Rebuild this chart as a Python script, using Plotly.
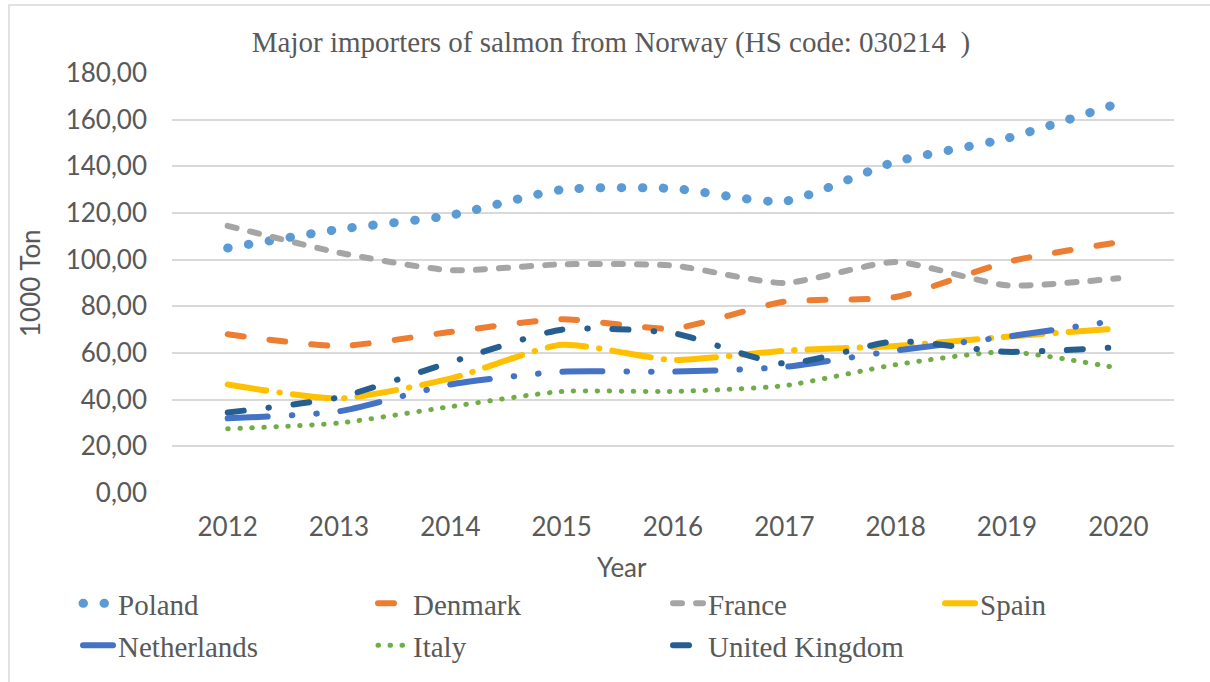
import plotly.graph_objects as go

# Data (1000 ton)
years = ["2012", "2013", "2014", "2015", "2016", "2017", "2018", "2019", "2020"]
poland = [105, 113, 119, 130, 130.5, 125, 142, 152, 167]
denmark = [68, 63, 69, 74.5, 70.5, 82, 84, 99, 107.5]
france = [114.5, 103, 95.5, 98, 97.5, 90, 99, 89, 92]
spain = [46.5, 40.5, 49, 63.5, 57, 61, 63, 67, 70.5]
netherlands = [32, 35, 46.5, 52, 52, 54, 61, 67, 74]
italy = [27.5, 30, 37, 43.5, 43.5, 46, 55, 60.5, 53.5]
uk = [34.5, 41, 56, 70, 68.5, 55.5, 65, 60.5, 62.5]

# name, values, colour, width, dash pattern, legend box
series = [
    ("Poland", poland, "#5B9BD5", 9, "0.5px,20.5px", "legend"),
    ("Denmark", denmark, "#ED7D31", 6, "16px,26px", "legend"),
    ("France", france, "#A5A5A5", 6, "9px,14px", "legend"),
    ("Spain", spain, "#FFC000", 6, "39px,13px,0.5px,13px", "legend3"),
    ("Netherlands", netherlands, "#4472C4", 6, "40px,24px,0.5px,24px,0.5px,24px", "legend2"),
    ("Italy", italy, "#70AD47", 5, "0.5px,11.5px", "legend2"),
    ("United Kingdom", uk, "#255E91", 6, "16px,25px,0.5px,24.5px", "legend2"),
]

fig = go.Figure()
for name, vals, color, width, dash, leg in series:
    fig.add_trace(go.Scatter(
        x=years, y=vals, name=name, mode="lines", legend=leg,
        line=dict(color=color, width=width, dash=dash, shape="spline", smoothing=0.6),
    ))

serif = "Liberation Serif, Times New Roman, serif"
sans = "Lato, Calibri, sans-serif"
grey = "#595959"

legend_style = dict(orientation="h", xref="paper", yref="paper",
                    x=-0.0938, xanchor="left", yanchor="top",
                    entrywidth=250, entrywidthmode="pixels", itemwidth=30,
                    bgcolor="rgba(0,0,0,0)",
                    font=dict(family=serif, size=29, color=grey))

# plot area: x 172..1174, y 73..493 px
fig.update_layout(
    width=1210, height=682,
    margin=dict(l=172, r=36, t=73, b=189, autoexpand=False),
    paper_bgcolor="white", plot_bgcolor="white",
    separators=",.",
    title=dict(text="Major importers of salmon from Norway (HS code: 030214  )",
               x=0.505, xanchor="center", y=0.938, yanchor="middle",
               font=dict(family=serif, size=29, color=grey)),
    xaxis=dict(range=[-0.5, 8.5], showgrid=False, showline=False, zeroline=False,
               ticks="", ticklabelstandoff=16,
               tickfont=dict(family=sans, size=26, color=grey)),
    yaxis=dict(range=[0, 180], dtick=20, tickformat=".2f",
               gridcolor="#D9D9D9", gridwidth=1.5, zeroline=False, showline=False,
               ticks="", ticklabelstandoff=24,
               tickfont=dict(family=sans, size=26, color=grey)),
    showlegend=True,
    legend=dict(legend_style, y=-0.2024),
    legend2=dict(legend_style, y=-0.3024),
    legend3=dict(legend_style, x=0.7665, y=-0.2024, entrywidth=0),
    annotations=[
        dict(text="Year", xref="paper", yref="paper", x=0.449, y=-0.177,
             xanchor="center", yanchor="middle", showarrow=False,
             font=dict(family=sans, size=26, color=grey)),
        dict(text="1000 Ton", xref="paper", yref="paper", x=0, xshift=-142, y=0.5,
             xanchor="center", yanchor="middle", textangle=-90, showarrow=False,
             font=dict(family=sans, size=26, color=grey)),
    ],
    shapes=[
        dict(type="rect", xref="paper", yref="paper",
             x0=-0.1627, x1=1.045, y0=-0.47, y1=1.162,
             line=dict(color="#D9D9D9", width=1.5), fillcolor="rgba(0,0,0,0)", layer="below"),
    ],
)

# no page margin, and round line caps like the Excel dotted styles
post = """
document.body.style.margin = '0';
var gd = document.getElementById('{plot_id}');
function caps(){ gd.querySelectorAll('.js-line, .legendlines path').forEach(function(p){
  p.style.strokeLinecap = 'round'; }); }
caps(); gd.on('plotly_afterplot', caps);
"""

fig.write_html("out.html", post_script=post, config={"displayModeBar": False})
